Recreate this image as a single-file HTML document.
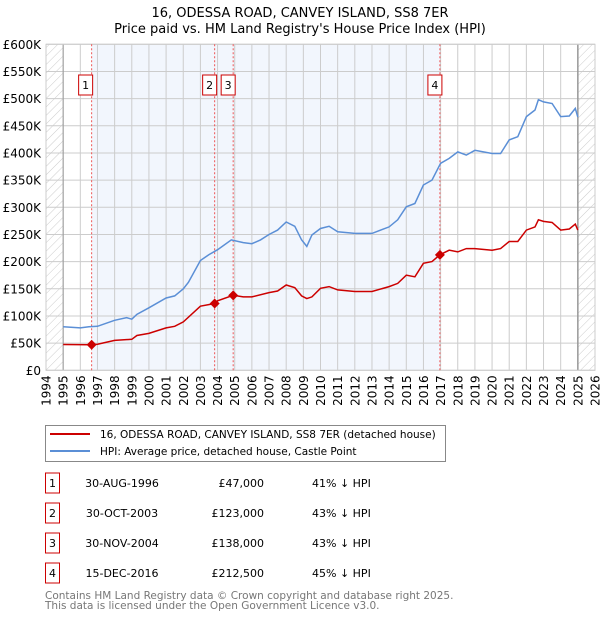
<!DOCTYPE html>
<html><head><meta charset="utf-8"><style>
body{margin:0;background:#fff;font-family:"DejaVu Sans","Liberation Sans",sans-serif;}
svg text{font-family:"DejaVu Sans","Liberation Sans",sans-serif;}
</style></head><body>
<svg id="chart" width="600" height="620" viewBox="0 0 600 620" xmlns="http://www.w3.org/2000/svg">
<defs><pattern id="hatch" width="6" height="6" patternUnits="userSpaceOnUse" patternTransform="rotate(45)"><line x1="0" y1="0" x2="0" y2="6" stroke="#ccc" stroke-width="1"/></pattern></defs>
<text x="300" y="17" text-anchor="middle" font-size="13">16, ODESSA ROAD, CANVEY ISLAND, SS8 7ER</text>
<text x="300" y="33" text-anchor="middle" font-size="13">Price paid vs. HM Land Registry's House Price Index (HPI)</text>
<g id="plot"></g>
<g>
<rect x="45.5" y="425.5" width="400" height="36" fill="#fff" stroke="#888"/>
<line x1="50" y1="434" x2="90" y2="434" stroke="#cc0000" stroke-width="2"/>
<text x="100" y="438" font-size="10.5">16, ODESSA ROAD, CANVEY ISLAND, SS8 7ER (detached house)</text>
<line x1="50" y1="451" x2="90" y2="451" stroke="#5b8fd6" stroke-width="2"/>
<text x="100" y="455" font-size="10.5">HPI: Average price, detached house, Castle Point</text>
</g>
<g id="table"></g>
<text x="45" y="599" font-size="10.5" fill="#777">Contains HM Land Registry data © Crown copyright and database right 2025.</text>
<text x="45" y="609" font-size="10.5" fill="#777">This data is licensed under the Open Government Licence v3.0.</text>
</svg>
<script>
const hpiYears=[1995,1996,1996.5,1997,1998,1998.7,1999,1999.3,2000,2001,2001.5,2002,2002.3,2003,2003.5,2004,2004.8,2005.5,2006,2006.5,2007,2007.5,2008,2008.5,2008.9,2009.2,2009.5,2010,2010.5,2011,2012,2013,2014,2014.5,2015,2015.5,2016,2016.5,2017,2017.5,2018,2018.5,2019,2020,2020.5,2021,2021.5,2022,2022.5,2022.7,2023,2023.5,2024,2024.5,2024.85,2025];
const hpiValues=[80,78,80,81,92,97,94,103,115,133,137,150,162,202,213,222,240,235,233,240,250,258,273,265,240,228,249,261,265,255,252,252,264,277,301,307,341,350,381,390,402,396,405,399,399,424,430,467,479,498,494,491,467,468,482,466];
const propYears=[1995,1996.66,1997,1998,1999,1999.3,2000,2001,2001.5,2002,2003,2003.83,2004,2004.91,2005.5,2006,2007,2007.5,2008,2008.5,2008.9,2009.2,2009.5,2010,2010.5,2011,2012,2013,2014,2014.5,2015,2015.5,2016,2016.5,2016.96,2017.5,2018,2018.5,2019,2020,2020.5,2021,2021.5,2022,2022.5,2022.7,2023,2023.5,2024,2024.5,2024.85,2025];
const propValues=[47.5,47,48,55,57,64,68,78,81,89,118,123,128,138,135,135,143,146,157,152,137,132,135,151,154,148,145,145,154,160,175,172,197,200,212.5,221,218,224,224,221,224,237,237,258,264,277,274,272,258,260,269,258];
const saleLabels=["1","2","3","4"];
const saleYears=[1996.66,2003.83,2004.91,2016.96];
const salePrices=[47,123,138,212.5];
const saleDates=["30-AUG-1996","30-OCT-2003","30-NOV-2004","15-DEC-2016"];
const salePriceText=["£47,000","£123,000","£138,000","£212,500"];
const salePct=["41% ↓ HPI","43% ↓ HPI","43% ↓ HPI","45% ↓ HPI"];
const yTicks=[0,50,100,150,200,250,300,350,400,450,500,550,600];
const yTickLabels=["£0","£50K","£100K","£150K","£200K","£250K","£300K","£350K","£400K","£450K","£500K","£550K","£600K"];
const xTicks=[1994,1995,1996,1997,1998,1999,2000,2001,2002,2003,2004,2005,2006,2007,2008,2009,2010,2011,2012,2013,2014,2015,2016,2017,2018,2019,2020,2021,2022,2023,2024,2025,2026];

const NS="http://www.w3.org/2000/svg";
const X0=46,X1=595,Y0=370.3,Y1=44.3;
const xs=y=>X0+(y-1994)/32*(X1-X0);
const ys=v=>Y0-v/600*(Y0-Y1);
const plot=document.getElementById('plot');
function mk(tag,attrs,parent){const e=document.createElementNS(NS,tag);for(const k in attrs)e.setAttribute(k,attrs[k]);(parent||plot).appendChild(e);return e;}
let e;
e=mk('rect',{x:X0,y:Y1,width:X1-X0,height:Y0-Y1,fill:'#fff'});


e=mk('rect',{x:X0,y:Y1,width:xs(1995)-X0,height:Y0-Y1,fill:'url(#hatch)'});


e=mk('rect',{x:xs(2025),y:Y1,width:X1-xs(2025),height:Y0-Y1,fill:'url(#hatch)'});


e=mk('rect',{x:xs(saleYears[0]),y:Y1,width:xs(saleYears[3])-xs(saleYears[0]),height:Y0-Y1,fill:'#eef3fc',opacity:0.75});


yTicks.forEach((v,i)=>{
 e=mk('line',{x1:X0,x2:X1,y1:ys(v),y2:ys(v),stroke:'#ccc','stroke-width':1});
 
 
 e=mk('text',{x:41,y:ys(v)+4.5,'text-anchor':'end','font-size':12});
 e.textContent=yTickLabels[i];
 
 
});
xTicks.forEach(yr=>{
 const x=xs(yr);
 e=mk('line',{x1:x,x2:x,y1:Y1,y2:Y0,stroke:'#ccc','stroke-width':1});
 
 
 e=mk('text',{x:0,y:0,'text-anchor':'end','font-size':12,transform:`translate(${x+4.5},${Y0+5}) rotate(-90)`});
 e.textContent=yr;
 
 
});
e=mk('line',{x1:xs(1995),x2:xs(1995),y1:Y1,y2:Y0,stroke:'#999','stroke-width':1});


e=mk('line',{x1:xs(2025),x2:xs(2025),y1:Y1,y2:Y0,stroke:'#999','stroke-width':1.5});


e=mk('rect',{x:X0,y:Y1,width:X1-X0,height:Y0-Y1,fill:'none',stroke:'#ccc'});


saleYears.forEach((yr,i)=>{
 e=mk('line',{x1:xs(yr),x2:xs(yr),y1:Y1,y2:Y0,stroke:'#e55','stroke-width':1,'stroke-dasharray':'2,2'});
 
 
});
const pts=(a,b)=>a.map((y,i)=>xs(y).toFixed(1)+','+ys(b[i]).toFixed(1)).join(' ');
e=mk('polyline',{points:pts(hpiYears,hpiValues),fill:'none',stroke:'#5b8fd6','stroke-width':1.5});


e=mk('polyline',{points:pts(propYears,propValues),fill:'none',stroke:'#cc0000','stroke-width':1.5});


const labelOffsets=[-6,-5,-5,-5];
saleYears.forEach((yr,i)=>{
 const x=xs(yr),y=ys(salePrices[i]);
 e=mk('polygon',{points:`${x},${y-5} ${x+5},${y} ${x},${y+5} ${x-5},${y}`,fill:'#cc0000'});
 
 
 const lx=x+labelOffsets[i];
 e=mk('rect',{x:lx-7,y:75,width:14,height:20,fill:'#fff',stroke:'#cc0000','stroke-width':1});
 
 
 e=mk('text',{x:lx,y:89,'text-anchor':'middle','font-size':11});
 e.textContent=saleLabels[i];
 
 
});
const tbl=document.getElementById('table');
saleLabels.forEach((l,i)=>{
 const cy=483+i*30;
 e=mk('rect',{x:45.5,y:cy-10,width:14,height:20,fill:'#fff',stroke:'#cc0000'},tbl);
 
 
 e=mk('text',{x:52.5,y:cy+4,'text-anchor':'middle','font-size':11},tbl);
 e.textContent=l;
 
 
 e=mk('text',{x:122,y:cy+4,'text-anchor':'middle','font-size':11},tbl);
 e.textContent=saleDates[i];
 
 
 e=mk('text',{x:264,y:cy+4,'text-anchor':'end','font-size':11},tbl);
 e.textContent=salePriceText[i];
 
 
 e=mk('text',{x:312,y:cy+4,'font-size':11},tbl);
 e.textContent=salePct[i];
 
 
});
</script>
</body></html>
